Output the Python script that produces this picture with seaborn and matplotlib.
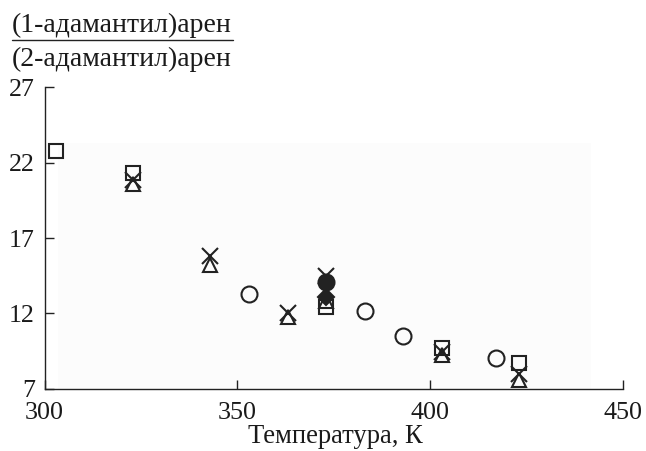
import matplotlib
matplotlib.use("Agg")
import matplotlib.pyplot as plt
import seaborn as sns
import pandas as pd
from matplotlib.lines import Line2D
from matplotlib.patches import Rectangle

# ---- data ----
sq_T = [303, 323, 373, 403, 423]
sq_v = [22.8, 21.3, 12.4, 9.7, 8.7]
tri_T = [323, 343, 363, 373, 403, 423]
tri_v = [20.6, 15.2, 11.75, 12.8, 9.2, 7.6]
x_T = [323, 343, 363, 373, 403, 423]
x_v = [20.85, 15.8, 12.0, 14.5, 9.4, 8.0]
circ_T = [353, 383, 393, 417]
circ_v = [13.3, 12.15, 10.5, 9.0]
fcirc_T = [373]
fcirc_v = [14.1]
diam_T = [373]
diam_v = [13.1]

x_ticks = [300, 350, 400, 450]
y_ticks = [7, 12, 17, 22, 27]
numerator = "(1-адамантил)арен"
denominator = "(2-адамантил)арен"
x_label = "Температура, К"

sns.set_theme(style="white")
plt.rcParams['font.family'] = ['Liberation Serif', 'DejaVu Serif']

FS = 18.7
fig = plt.figure(figsize=(6.46, 4.51), dpi=100)
ax = fig.add_axes([0.0690, 0.1384, 0.8954, 0.6676])

# faint grey scan area
ax.add_patch(Rectangle((0.024, 0.0), 0.92, 0.816, transform=ax.transAxes,
                       facecolor="#fcfcfc", edgecolor="none", zorder=0))

ink = "#222222"
series = [
    (sq_T, sq_v, "s", 10, "none"),
    (tri_T, tri_v, "^", 10.5, "none"),
    (x_T, x_v, "x", 11, "none"),
    (circ_T, circ_v, "o", 11.5, "none"),
    (fcirc_T, fcirc_v, "o", 11.5, ink),
    (diam_T, diam_v, "D", 8.5, ink),
]
for T, v, m, ms, fc in series:
    df = pd.DataFrame({"T": T, "v": v})
    sns.lineplot(data=df, x="T", y="v", ax=ax, estimator=None, sort=False,
                 linestyle="", marker=m, markersize=ms, markerfacecolor=fc,
                 markeredgecolor=ink, markeredgewidth=1.5, color=ink,
                 legend=False, zorder=3)

ax.set_xlim(300, 450)
ax.set_ylim(7, 27)
ax.set_xticks(x_ticks)
ax.set_yticks(y_ticks)
ax.set_xticklabels([str(t) for t in x_ticks])
ax.set_yticklabels([str(t) for t in y_ticks])
ax.set_xlabel(x_label, fontsize=19.2, color="#1a1a1a")
ax.xaxis.set_label_coords(0.503, -0.182)
ax.xaxis.label.set_va("baseline")
ax.set_ylabel("")
ax.tick_params(axis="both", direction="in", length=6.5, width=1.0,
               colors="#222222", labelsize=FS, labelcolor="#1a1a1a",
               bottom=True, left=True, top=False, right=False)
ax.tick_params(axis="x", pad=10)
ax.tick_params(axis="y", pad=7)
for s in ["top", "right"]:
    ax.spines[s].set_visible(False)
for s in ["left", "bottom"]:
    ax.spines[s].set_color("#222222")
    ax.spines[s].set_linewidth(1.0)
ax.set_facecolor("white")

# fraction label at top-left
fig.text(0.0186, 1 - 31.7 / 451, numerator, fontsize=20, ha="left",
         va="baseline", color="#1a1a1a")
fig.text(0.0186, 1 - 66.5 / 451, denominator, fontsize=20, ha="left",
         va="baseline", color="#1a1a1a")
fig.add_artist(Line2D([11.7 / 646, 233 / 646], [1 - 40 / 451, 1 - 40 / 451],
                      transform=fig.transFigure, color="#222222", lw=1.0))

fig.savefig("out.png", dpi=100)
